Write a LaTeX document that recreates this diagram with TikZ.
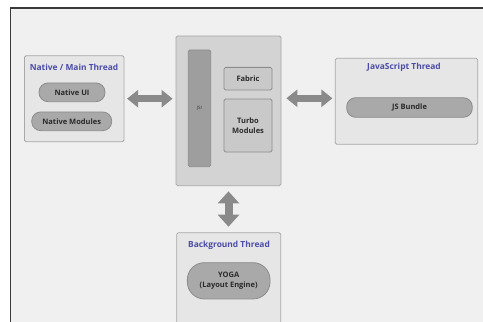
\documentclass[tikz,border=0pt]{standalone}
\usepackage{fontspec}
\setmainfont{Open Sans}
\usetikzlibrary{arrows.meta}
\definecolor{bg}{HTML}{F0F0F0}
\definecolor{frame}{HTML}{3A3A3A}
\definecolor{boxfill}{HTML}{E6E6E6}
\definecolor{boxborder}{HTML}{A8A8A8}
\definecolor{centerfill}{HTML}{D3D3D3}
\definecolor{pillfill}{HTML}{A9A9A9}
\definecolor{pillborder}{HTML}{8C8C8C}
\definecolor{jsifill}{HTML}{9E9E9E}
\definecolor{innerfill}{HTML}{C9C9C9}
\definecolor{arrowgray}{HTML}{8A8A8A}
\definecolor{titleblue}{HTML}{4B4BAB}
\definecolor{txt}{HTML}{2A2A2A}
\begin{document}
\begin{tikzpicture}[x=1pt,y=-1pt,
  box/.style={draw=boxborder, fill=boxfill, rounded corners=1.5pt, line width=0.8pt, inner sep=0pt},
  pill/.style={draw=pillborder, fill=pillfill, rounded corners=9pt, line width=0.8pt, inner sep=0pt,
    font=\bfseries\fontsize{7.5}{9.6}\selectfont, text=txt, align=center},
  inner/.style={draw=pillborder, fill=innerfill, rounded corners=1.5pt, line width=0.8pt, inner sep=0pt,
    font=\bfseries\fontsize{7.5}{9.8}\selectfont, text=txt, align=center},
  ttl/.style={font=\bfseries\fontsize{8.4}{9}\selectfont, text=titleblue, inner sep=0pt},
  dbl/.style={draw=arrowgray, line width=6.5pt,
    {Triangle[length=11pt,width=17pt]}-{Triangle[length=11pt,width=17pt]}},
  dblv/.style={draw=arrowgray, line width=8pt,
    {Triangle[length=12pt,width=21pt]}-{Triangle[length=12pt,width=21pt]}}
]
\useasboundingbox (0,0) rectangle (483,322);
\clip (0,0) rectangle (483,322);
\fill[white] (0,0) rectangle (483,322);
\fill[bg] (10.5,8) rectangle (483,322);
\draw[frame, line width=1.6pt] (10.5,323) -- (10.5,8) -- (484,8);

% Native / Main Thread
\node[box, minimum width=99.5pt, minimum height=86pt] (native) at (74.25,98.7) {};
\node[ttl] (nativet) at (74,67.7) {Native / Main Thread};
\node[pill, minimum width=66pt, minimum height=18.7pt] (nui) at (72,92.3) {Native UI};
\node[pill, minimum width=80pt, minimum height=18.7pt] (nmod) at (71.7,121.3) {Native Modules};

% Center
\node[box, fill=centerfill, minimum width=105pt, minimum height=149.7pt] (center) at (228.5,110.8) {};
\node[draw=pillborder, fill=jsifill, rounded corners=1.5pt, line width=0.8pt, inner sep=0pt,
  minimum width=22.4pt, minimum height=116.7pt, font=\fontsize{4.5}{5}\selectfont, text=txt] (jsi) at (199.5,108.3) {JSI};
\node[inner, minimum width=48pt, minimum height=22.7pt] (fabric) at (248,78.7) {Fabric};
\node[inner, minimum width=48pt, minimum height=53pt] (turbo) at (248,125.5) {Turbo\\Modules};

% JavaScript Thread
\node[box, minimum width=142.4pt, minimum height=86pt] (js) at (406.5,101.3) {};
\node[ttl] (jst) at (404,67.3) {JavaScript Thread};
\node[pill, minimum width=125.6pt, minimum height=19.6pt] (bundle) at (409.5,107.5) {JS Bundle};

% Background Thread
\node[box, anchor=north, minimum width=104pt, minimum height=100pt] (bgt) at (228.7,232.3) {};
\node[ttl] (bgtt) at (229,245) {Background Thread};
\node[pill, rounded corners=17pt, minimum width=82.7pt, minimum height=36.3pt] (yoga) at (228.7,280.8) {YOGA\\(Layout Engine)};

% Arrows
\draw[dbl, shorten <=2.7pt, shorten >=3pt] (native.east) -- (native.east -| center.west);
\draw[dbl, shorten <=5pt, shorten >=2.5pt] ([yshift=3pt]js.west -| center.east) -- ([yshift=3pt]js.west);
\draw[dblv, shorten <=5.3pt, shorten >=5.6pt] (center.south) -- (center.south |- bgt.north);
\end{tikzpicture}
\end{document}
